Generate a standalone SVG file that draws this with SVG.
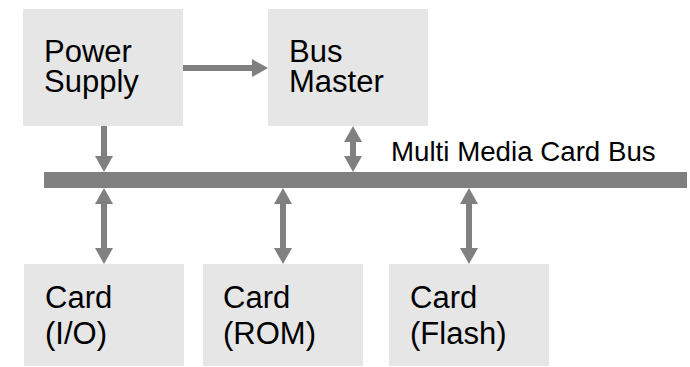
<svg xmlns="http://www.w3.org/2000/svg" width="690" height="367" viewBox="0 0 690 367">
<style>
.box{fill:#e6e6e6}
.lbl{font-family:"Liberation Sans",Arial,sans-serif;font-size:31px;fill:#000}
.bus{font-family:"Liberation Sans",Arial,sans-serif;font-size:27.7px;fill:#000}
.conn{stroke:#808080;stroke-width:6;fill:none}
</style>
<defs>
<marker id="ah" viewBox="0 0 16 18" refX="8" refY="9" markerWidth="16" markerHeight="18" markerUnits="userSpaceOnUse" orient="auto-start-reverse">
<path d="M0,0 L16,9 L0,18 z" fill="#808080"/>
</marker>
</defs>
<rect id="bus-bar" x="44" y="172" width="643" height="16" fill="#808080"/>
<g id="power-supply">
<rect class="box" x="23" y="9" width="160" height="117"/>
<text class="lbl" x="44" y="62">Power</text>
<text class="lbl" x="44" y="92">Supply</text>
</g>
<g id="bus-master">
<rect class="box" x="268" y="9" width="160" height="117"/>
<text class="lbl" x="289" y="62">Bus</text>
<text class="lbl" x="289" y="92">Master</text>
</g>
<g id="card-io">
<rect class="box" x="24" y="264" width="160" height="102"/>
<text class="lbl" x="45" y="307.5">Card</text>
<text class="lbl" x="45" y="343.5">(I/O)</text>
</g>
<g id="card-rom">
<rect class="box" x="203" y="264" width="160" height="102"/>
<text class="lbl" x="223" y="307.5">Card</text>
<text class="lbl" x="223" y="343.5">(ROM)</text>
</g>
<g id="card-flash">
<rect class="box" x="389" y="264" width="160" height="102"/>
<text class="lbl" x="410" y="307.5">Card</text>
<text class="lbl" x="410" y="343.5">(Flash)</text>
</g>
<text id="bus-label" class="bus" x="391" y="161">Multi Media Card Bus</text>
<g id="connectors">
<line class="conn" x1="183" y1="68" x2="260" y2="68" marker-end="url(#ah)"/>
<line class="conn" x1="104" y1="126" x2="104" y2="164" marker-end="url(#ah)"/>
<line class="conn" x1="353" y1="134" x2="353" y2="164" marker-start="url(#ah)" marker-end="url(#ah)"/>
<line class="conn" x1="104" y1="196" x2="104" y2="256" marker-start="url(#ah)" marker-end="url(#ah)"/>
<line class="conn" x1="283" y1="196" x2="283" y2="256" marker-start="url(#ah)" marker-end="url(#ah)"/>
<line class="conn" x1="469" y1="196" x2="469" y2="256" marker-start="url(#ah)" marker-end="url(#ah)"/>
</g>
</svg>
